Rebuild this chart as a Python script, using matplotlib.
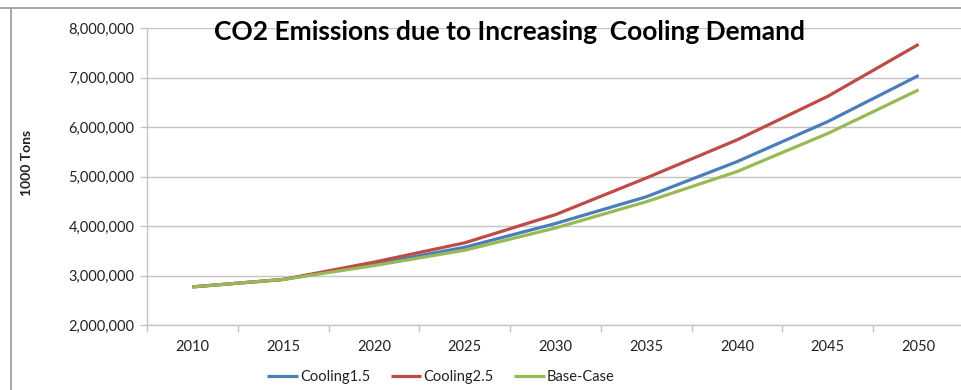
import matplotlib

matplotlib.use("Agg")
import matplotlib.pyplot as plt
from matplotlib.lines import Line2D
from matplotlib.ticker import FuncFormatter, FixedLocator
import numpy as np

years = ["2010", "2015", "2020", "2025", "2030", "2035", "2040", "2045", "2050"]
cooling_15 = [2770000, 2920000, 3230000, 3570000, 4050000, 4590000, 5300000, 6110000, 7040000]
cooling_25 = [2770000, 2920000, 3270000, 3660000, 4230000, 4970000, 5740000, 6620000, 7670000]
base_case = [2770000, 2920000, 3200000, 3510000, 3960000, 4490000, 5100000, 5870000, 6750000]

plt.rcParams["font.family"] = ["Lato", "DejaVu Sans"]

GRID = "#c4c4c4"
TEXT = "#222222"

fig = plt.figure(figsize=(9.61, 3.90), dpi=100)
ax = fig.add_axes([147 / 961, 65 / 390, 817 / 961, 297 / 390])

x = np.arange(len(years))
ax.plot(x, cooling_15, color="#4a7ebb", lw=2.3, label="Cooling1.5", solid_capstyle="butt")
ax.plot(x, cooling_25, color="#be4b48", lw=2.3, label="Cooling2.5", solid_capstyle="butt")
ax.plot(x, base_case, color="#98b954", lw=2.3, label="Base-Case", solid_capstyle="butt")

ax.set_xlim(-0.5, len(years) - 0.5)
ax.set_ylim(2000000, 8000000)
ax.set_yticks(np.arange(2000000, 8000001, 1000000))
ax.yaxis.set_major_formatter(FuncFormatter(lambda v, _: f"{v:,.0f}"))
ax.grid(axis="y", color=GRID, lw=1.0)
ax.set_axisbelow(True)

# category labels sit between the tick marks
ax.xaxis.set_major_locator(FixedLocator(np.arange(-0.5, len(years), 1.0)))
ax.xaxis.set_major_formatter(FuncFormatter(lambda v, _: ""))
ax.xaxis.set_minor_locator(FixedLocator(x))
ax.set_xticklabels(years, minor=True)
ax.tick_params(axis="x", which="major", length=5, color=GRID, width=1.0)
ax.tick_params(axis="x", which="minor", length=0, pad=11, labelsize=10.5, labelcolor=TEXT)
ax.tick_params(axis="y", length=5, color=GRID, width=1.0, labelsize=10.5, labelcolor=TEXT, pad=4)

for side in ("top", "right"):
    ax.spines[side].set_visible(False)
for side in ("left", "bottom"):
    ax.spines[side].set_color(GRID)
    ax.spines[side].set_linewidth(1.0)

ax.set_ylabel("1000 Tons", fontsize=10, fontweight="bold", color=TEXT)
ax.yaxis.set_label_coords(-114 / 817, 0.545)

fig.text(509 / 961, 1 - 32 / 390, "CO2 Emissions due to Increasing  Cooling Demand",
         ha="center", va="center", fontsize=19, fontweight="bold", color="black")

fig.legend(loc="center", bbox_to_anchor=(441 / 961, 1 - 377 / 390), ncol=3, frameon=False,
           fontsize=10.5, handlelength=2.1, handletextpad=0.15, columnspacing=1.4,
           labelcolor=TEXT)

# outer chart-area border visible along the top and left edges
fig.add_artist(Line2D([0, 1], [1 - 8 / 390] * 2, transform=fig.transFigure, color="#9a9a9a", lw=1.2))
fig.add_artist(Line2D([11 / 961] * 2, [0, 1 - 8 / 390], transform=fig.transFigure, color="#9a9a9a", lw=1.2))

fig.savefig("out.png", dpi=100)
